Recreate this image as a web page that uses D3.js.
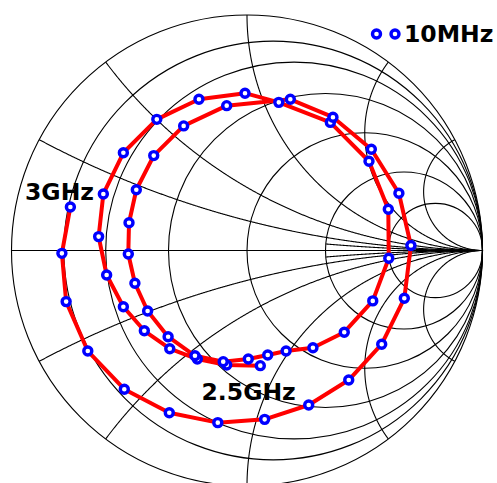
<!DOCTYPE html>
<html><head><meta charset="utf-8">
<script src="https://cdn.jsdelivr.net/npm/d3@7"></script>
<style>html,body{margin:0;padding:0;background:#fff;overflow:hidden}</style>
</head><body>
<svg id="chart" width="497" height="483"></svg>
<script>
// Reflection coefficient samples (real / imaginary parts), in sweep order
const gammaRe = [0.0565,-0.0862,-0.211,-0.328,-0.436,-0.525,-0.596,-0.630,-0.610,-0.525,-0.383,-0.204,-0.0085,0.135,0.354,0.518,0.600,0.602,0.534,0.413,0.280,0.166,0.088,0.0055,-0.101,-0.221,-0.335,-0.422,-0.476,-0.504,-0.501,-0.470,-0.396,-0.269,-0.0862,0.184,0.365,0.528,0.645,0.696,0.668,0.572,0.432,0.262,0.075,-0.124,-0.330,-0.521,-0.676,-0.768,-0.786,-0.750];
const gammaIm = [-0.489,-0.486,-0.461,-0.417,-0.341,-0.239,-0.104,0.059,0.240,0.415,0.557,0.642,0.668,0.629,0.544,0.379,0.175,-0.033,-0.214,-0.347,-0.413,-0.427,-0.444,-0.461,-0.472,-0.447,-0.366,-0.257,-0.139,-0.015,0.118,0.258,0.403,0.529,0.615,0.642,0.566,0.430,0.243,0.021,-0.203,-0.398,-0.550,-0.656,-0.717,-0.731,-0.689,-0.589,-0.427,-0.217,-0.012,0.185];
// Smith grid values
const resistanceCircles = [0, 0.125, 0.25, 0.5, 1, 2, 4];
const reactanceArcs = [0.25, 0.5, 1, 2, 4];
const reactanceArcsPartial = [0.125];
const partialStartR = 2;
// Labels
const legendLabel = "10MHz";
const annotations = [{text: "3GHz", idx: 51}, {text: "2.5GHz", idx: 0}];

const svg = d3.select("#chart");
const sx = d3.scaleLinear().domain([-1, 1]).range([11.5, 482.5]);
const sy = d3.scaleLinear().domain([-1, 1]).range([486, 15]);
const rad = v => sx(v) - sx(0);

const grid = svg.append("g").attr("fill", "none").attr("stroke", "#000").attr("stroke-width", 1.1);

// real axis
grid.append("line").attr("x1", sx(-1)).attr("x2", sx(1)).attr("y1", sy(0)).attr("y2", sy(0));

// resistance circles
resistanceCircles.forEach(r => {
  grid.append("circle").attr("cx", sx(r / (1 + r))).attr("cy", sy(0)).attr("r", rad(1 / (1 + r)));
});

function gammaOf(r, x) {
  const den = (r + 1) * (r + 1) + x * x;
  return [(r * r + x * x - 1) / den, (2 * x) / den];
}
const line = d3.line().x(d => sx(d[0])).y(d => sy(d[1]));
function reactancePath(x, r0) {
  const pts = [];
  const N = 600;
  for (let i = 0; i < N; i++) {
    const th = (i / N) * (Math.PI / 2);
    pts.push(gammaOf(r0 + Math.tan(th), x));
  }
  pts.push([1, 0]);
  return line(pts);
}
reactanceArcs.forEach(x => {
  [x, -x].forEach(v => grid.append("path").attr("d", reactancePath(v, 0)));
});
reactanceArcsPartial.forEach(x => {
  [x, -x].forEach(v => grid.append("path").attr("d", reactancePath(v, partialStartR)));
});

// data
const pts = gammaRe.map((g, i) => [g, gammaIm[i]]);
svg.append("path").attr("d", line(pts)).attr("fill", "none")
  .attr("stroke", "#ff0000").attr("stroke-width", 4).attr("stroke-linejoin", "round");
svg.append("g").selectAll("circle").data(pts).join("circle")
  .attr("cx", d => sx(d[0])).attr("cy", d => sy(d[1])).attr("r", 4)
  .attr("fill", "#fff").attr("stroke", "#0000ff").attr("stroke-width", 3.4);

// annotations
const font = "'DejaVu Sans', sans-serif";
const annPos = {"3GHz": [25, 199.5], "2.5GHz": [201.5, 400]};
annotations.forEach(a => {
  svg.append("text").attr("x", annPos[a.text][0]).attr("y", annPos[a.text][1])
    .attr("font-family", font).attr("font-weight", "bold").attr("font-size", 23.5)
    .attr("fill", "#000").text(a.text);
});

// legend
const lg = svg.append("g");
[376.5, 395].forEach(cx => lg.append("circle").attr("cx", cx).attr("cy", 34).attr("r", 4)
  .attr("fill", "#fff").attr("stroke", "#0000ff").attr("stroke-width", 3.4));
lg.append("text").attr("x", 404).attr("y", 42).attr("font-family", font).attr("font-weight", "bold")
  .attr("font-size", 23.5).attr("fill", "#000").text(legendLabel);
</script>
</body></html>
